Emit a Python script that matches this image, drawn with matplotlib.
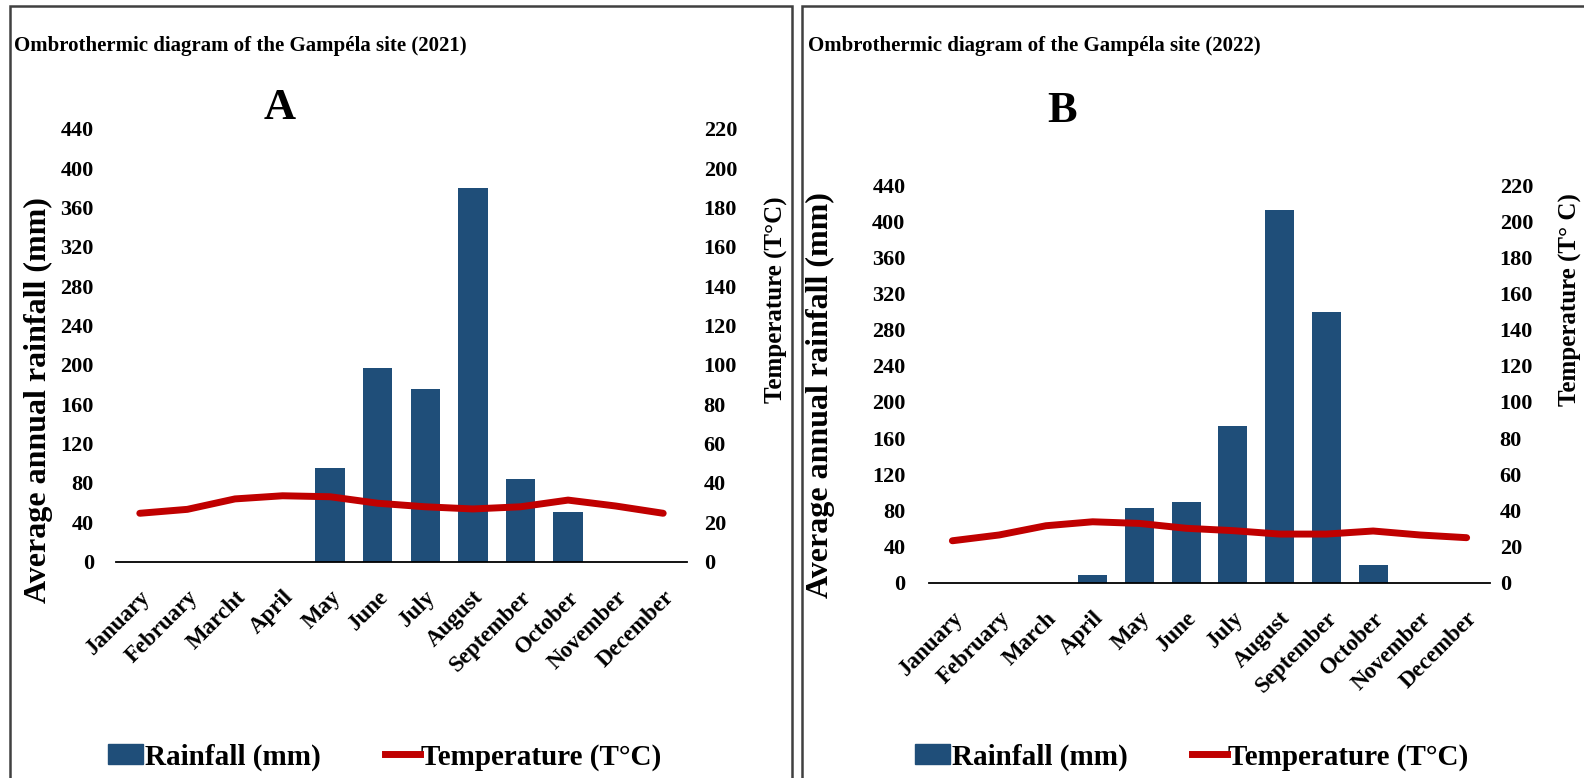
import matplotlib
matplotlib.use('Agg')
import matplotlib.pyplot as plt
import matplotlib.transforms as mtrans
from matplotlib.patches import Rectangle, Patch
from matplotlib.lines import Line2D

plt.rcParams['font.family'] = ['Liberation Serif', 'DejaVu Serif']
plt.rcParams['font.weight'] = 'bold'

months_a = ['January', 'February', 'Marcht', 'April', 'May', 'June', 'July',
            'August', 'September', 'October', 'November', 'December']
months_b = ['January', 'February', 'March', 'April', 'May', 'June', 'July',
            'August', 'September', 'October', 'November', 'December']

# rainfall (mm) per month
rain_2021 = [0, 0, 0, 0, 95, 197, 175, 380, 84, 50, 0, 0]
rain_2022 = [0, 0, 0, 8, 83, 89, 173, 412, 300, 20, 0, 0]

# temperature (T°C) per month
temp_2021 = [24.6, 26.6, 31.9, 33.5, 33.0, 29.7, 27.9, 26.8, 27.9, 31.3, 28.3, 24.6]
temp_2022 = [23.2, 26.4, 31.5, 33.7, 32.8, 30.1, 28.8, 26.9, 26.9, 28.6, 26.4, 24.9]

rain_ticks = list(range(0, 441, 40))
temp_ticks = list(range(0, 221, 20))

bar_color = '#1f4e79'
line_color = '#c00000'

W, H = 1584, 778
fig = plt.figure(figsize=(W / 100, H / 100), dpi=100)


def px(x, y):
    # pixel position (from top left) -> figure fraction
    return x / W, 1 - y / H


def panel(rect, months, rain, temp, title, letter, temp_label, frame, title_xy, letter_xy,
          ylab_xy, y2lab_xy, legend_xy, lpad, rpad):
    fig.add_artist(Rectangle((frame[0] / W, frame[1] / H), frame[2] / W, frame[3] / H,
                             transform=fig.transFigure, fill=False, ec='#404040', lw=1.8))
    fig.text(*px(*title_xy), title, fontsize=15, fontweight='bold', va='center', ha='left')
    fig.text(*px(*letter_xy), letter, fontsize=32, fontweight='bold', va='center', ha='center')

    ax = fig.add_axes(rect)
    x = list(range(len(months)))
    ax.bar(x, rain, width=0.62, color=bar_color, zorder=2)
    ax.set_ylim(0, 440)
    ax.set_xlim(-0.5, len(months) - 0.5)
    ax.set_yticks(rain_ticks)
    ax.set_xticks(x)
    ax.set_xticklabels(months, rotation=45, ha='right', va='top', rotation_mode='anchor',
                       fontsize=16.5, fontweight='bold')
    shift = mtrans.ScaledTranslation(-8 / 72, 0, fig.dpi_scale_trans)
    for lab in ax.get_xticklabels():
        lab.set_transform(lab.get_transform() + shift)
    ax.tick_params(axis='both', length=0)
    ax.tick_params(axis='y', labelsize=16, pad=lpad)
    ax.tick_params(axis='x', pad=18)
    for s in ['top', 'right', 'left']:
        ax.spines[s].set_visible(False)
    ax.spines['bottom'].set_linewidth(1.3)
    ax.spines['bottom'].set_color('black')

    ax2 = ax.twinx()
    ax2.plot(x, temp, color=line_color, lw=5, solid_joinstyle='round',
             solid_capstyle='round', zorder=3)
    ax2.set_ylim(0, 220)
    ax2.set_yticks(temp_ticks)
    ax2.tick_params(axis='y', length=0, labelsize=16, pad=rpad)
    for s in ax2.spines.values():
        s.set_visible(False)

    fig.text(*px(*ylab_xy), 'Average annual rainfall (mm)', rotation=90,
             fontsize=23, fontweight='bold', va='center', ha='center')
    fig.text(*px(*y2lab_xy), temp_label, rotation=90,
             fontsize=18, fontweight='bold', va='center', ha='center')

    handles = [Patch(color=bar_color, label='Rainfall (mm)'),
               Line2D([], [], color=line_color, lw=5, label='Temperature (T°C)')]
    fig.legend(handles=handles, loc='center', ncol=2, frameon=False,
               bbox_to_anchor=px(*legend_xy),
               handlelength=1.2, handletextpad=0.05, columnspacing=2.2,
               prop={'weight': 'bold', 'size': 21})


panel([116 / W, 216.3 / H, 571 / W, 433 / H], months_a, rain_2021, temp_2021,
      'Ombrothermic diagram of the Gampéla site (2021)', 'A', 'Temperature (T°C)',
      (10, -20, 782, 792), (14, 46), (280, 108), (38, 400), (776, 300), (385, 757), 16, 12)

panel([929 / W, 195.3 / H, 561 / W, 397.7 / H], months_b, rain_2022, temp_2022,
      'Ombrothermic diagram of the Gampéla site (2022)', 'B', 'Temperature (T° C)',
      (802, -20, 800, 792), (808, 46), (1062, 111), (820, 395), (1570, 300), (1192, 757), 17, 7)

fig.savefig('out.png', dpi=100)
